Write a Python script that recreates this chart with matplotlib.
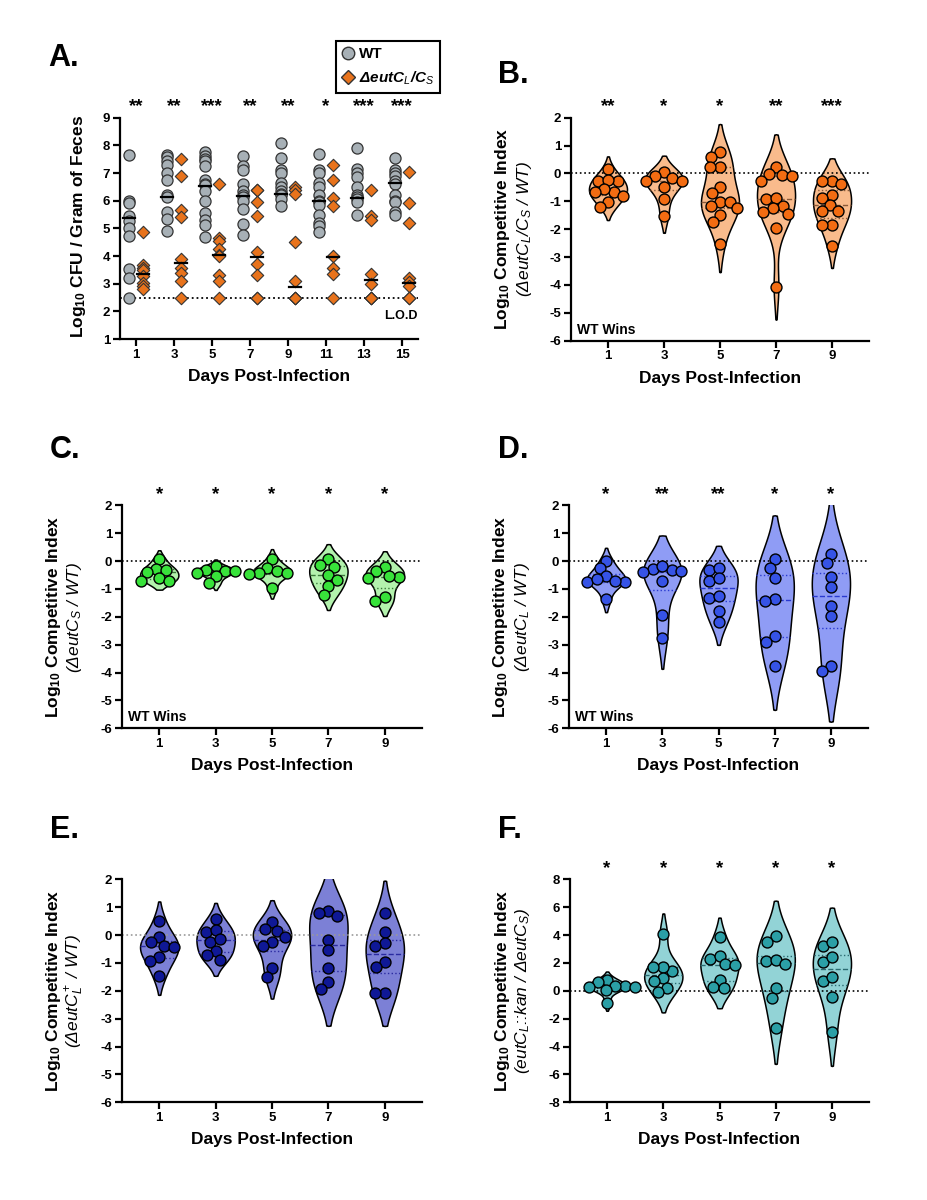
import numpy as np
import matplotlib
matplotlib.use('Agg')
import matplotlib.pyplot as plt
from matplotlib.lines import Line2D

plt.rcParams['font.family'] = ['Liberation Sans', 'DejaVu Sans']
plt.rcParams['mathtext.fontset'] = 'custom'
plt.rcParams['mathtext.rm'] = 'Liberation Sans'
plt.rcParams['mathtext.it'] = 'Liberation Sans:italic'
plt.rcParams['mathtext.bf'] = 'Liberation Sans:bold'

# ---------------- data ----------------
days_a = ['1', '3', '5', '7', '9', '11', '13', '15']
wt_a = [
    [7.65, 6.0, 5.92, 5.45, 5.28, 5.0, 4.72, 3.52, 3.2, 2.5],
    [7.65, 7.58, 7.45, 7.28, 7.0, 6.75, 6.22, 6.15, 5.6, 5.32, 4.9],
    [7.75, 7.63, 7.5, 7.45, 7.25, 6.75, 6.62, 6.55, 6.35, 6.0, 5.55, 5.3, 5.12, 4.7],
    [7.63, 7.25, 7.1, 6.6, 6.35, 6.2, 6.15, 6.0, 5.7, 5.15, 4.75],
    [8.1, 7.55, 7.12, 7.0, 6.65, 6.5, 6.35, 6.25, 6.2, 6.05, 5.8],
    [7.7, 7.1, 7.0, 6.65, 6.5, 6.2, 6.0, 5.95, 5.85, 5.5, 5.2, 5.1, 4.85],
    [7.9, 7.15, 7.0, 6.85, 6.5, 6.2, 6.15, 6.05, 5.95, 5.5],
    [7.55, 7.1, 7.0, 6.9, 6.7, 6.6, 6.2, 6.0, 5.95, 5.6, 5.5],
]
ko_a = [
    [4.85, 3.68, 3.56, 3.5, 3.26, 3.04, 2.92, 2.8],
    [7.5, 6.9, 5.65, 5.4, 3.9, 3.55, 3.4, 3.1, 2.5],
    [6.6, 4.65, 4.55, 4.25, 4.05, 4.0, 3.3, 3.1, 2.5],
    [6.4, 6.38, 5.95, 5.45, 4.15, 3.7, 3.3, 2.5, 2.5],
    [6.5, 6.4, 6.25, 4.5, 3.1, 2.5, 2.5, 2.5],
    [7.3, 6.75, 6.1, 5.8, 4.0, 3.55, 3.35, 2.5],
    [6.4, 5.45, 5.3, 3.35, 3.0, 2.5, 2.5, 2.5],
    [7.05, 5.9, 5.2, 3.2, 3.05, 2.9, 2.5, 2.5],
]
wt_median_a = [5.37, 6.15, 6.53, 6.17, 6.23, 6.0, 6.11, 6.63]
ko_median_a = [3.34, 3.74, 4.04, 3.96, 2.87, 3.96, 3.14, 3.04]
stars_a = ['**', '**', '***', '**', '**', '*', '***', '***']
lod = 2.5

days_ci = ['1', '3', '5', '7', '9']
ci_b = [
    [0.16, -0.26, -0.26, -0.24, -0.66, -0.57, -0.8, -0.68, -1.01, -1.22],
    [0.04, -0.1, -0.15, -0.26, -0.27, -0.48, -0.9, -1.53],
    [0.76, 0.58, 0.22, 0.22, -0.48, -0.69, -1.01, -1.01, -1.17, -1.25, -1.49, -1.73, -2.53],
    [0.22, -0.02, -0.06, -0.09, -0.26, -0.93, -0.89, -1.16, -1.25, -1.37, -1.46, -1.94, -4.06],
    [-0.26, -0.26, -0.38, -0.78, -0.87, -1.13, -1.35, -1.34, -1.85, -1.85, -2.59],
]
stars_b = ['**', '*', '*', '**', '***']

ci_c = [
    [0.06, -0.28, -0.32, -0.4, -0.62, -0.7, -0.7],
    [-0.32, -0.18, -0.42, -0.34, -0.34, -0.54, -0.8],
    [0.06, -0.26, -0.44, -0.34, -0.47, -0.44, -0.98],
    [0.07, -0.14, -0.22, -0.5, -0.68, -0.89, -1.22],
    [-0.2, -0.36, -0.56, -0.6, -0.52, -1.3, -1.42],
]
stars_c = ['*', '*', '*', '*', '*']

ci_d = [
    [0.01, -0.26, -0.52, -0.74, -0.66, -0.76, -0.7, -1.37],
    [-0.3, -0.32, -0.39, -0.37, -0.18, -0.72, -1.94, -2.77],
    [-0.32, -0.26, -0.7, -0.62, -1.34, -1.25, -1.78, -2.2],
    [0.06, -0.26, -0.6, -1.36, -1.42, -2.69, -2.89, -3.76],
    [0.25, -0.08, -0.56, -0.92, -1.6, -1.96, -3.75, -3.94],
]
stars_d = ['*', '**', '**', '*', '*']

ci_e = [
    [0.52, -0.06, -0.26, -0.38, -0.44, -0.78, -0.93, -1.46],
    [0.58, 0.12, 0.18, -0.24, -0.15, -0.56, -0.72, -0.89],
    [0.46, 0.16, 0.22, -0.06, -0.26, -0.38, -1.17, -1.49],
    [0.88, 0.78, 0.70, -0.18, -0.54, -1.17, -1.70, -1.95],
    [0.78, 0.12, -0.27, -0.39, -0.95, -1.13, -2.09, -2.09],
]

ci_f = [
    [0.81, 0.6, 0.36, 0.24, 0.26, 0.38, 0.05, -0.86],
    [4.07, 1.41, 1.72, 1.72, 0.89, 0.72, 0.22, -0.07],
    [3.83, 2.27, 2.51, 1.89, 1.84, 0.81, 0.29, 0.17],
    [3.92, 3.52, 2.15, 2.2, 1.91, 0.17, -0.5, -2.7],
    [3.21, 3.52, 2.08, 2.39, 0.72, 1.0, -0.43, -2.94],
]
stars_f = ['*', '*', '*', '*', '*']

# ---------------- figure ----------------
W, H = 927, 1200
fig = plt.figure(figsize=(W / 100, H / 100), dpi=100)


def make_ax(l, t, r, b):
    return fig.add_axes([l / W, 1 - b / H, (r - l) / W, (b - t) / H])


def style(ax, xl, yt):
    for s in ['top', 'right']:
        ax.spines[s].set_visible(False)
    for s in ['left', 'bottom']:
        ax.spines[s].set_linewidth(1.6)
    ax.tick_params(axis='both', width=1.6, length=5, labelsize=9.5, pad=2)
    ax.set_xticks(range(len(xl)))
    ax.set_xticklabels(xl, fontweight='bold')
    ax.set_yticks(yt)
    ax.set_yticklabels([str(v) for v in yt], fontweight='bold')
    ax.set_xlabel('Days Post-Infection', fontsize=12.5, fontweight='bold', labelpad=6)


def stars(ax, labels, dy=8):
    for i, s in enumerate(labels):
        ax.annotate(s, xy=(i, 1.0), xycoords=('data', 'axes fraction'),
                    xytext=(0, dy), textcoords='offset points',
                    ha='center', va='center', fontsize=13.5, fontweight='bold')


def ylabels(ax_left, ycenter, line1, line2=None, off1=68, off2=47):
    x1 = ax_left - (off1 if line2 else 41)
    fig.text(x1 / W, 1 - ycenter / H, line1, rotation=90, ha='center', va='center',
             fontsize=12.5, fontweight='bold')
    if line2:
        fig.text((ax_left - off2) / W, 1 - ycenter / H, line2, rotation=90,
                 ha='center', va='center', fontsize=12.5, fontstyle='italic')


def panel_letter(x, y, s):
    fig.text(x / W, 1 - y / H, s, ha='left', va='top', fontsize=22, fontweight='bold')


def swarm_offsets(ax, vals, d=10.0):
    p0 = ax.transData.transform((0, 0))
    p1 = ax.transData.transform((1, 1))
    sx, sy = p1[0] - p0[0], p1[1] - p0[1]
    vals = np.asarray(vals, float)
    order = np.argsort(-vals, kind='stable')
    placed = []
    offs = np.zeros(len(vals))
    for i in order:
        y = vals[i] * sy
        cands = [0.0]
        for xp, yp in placed:
            dy = abs(y - yp)
            if dy < d:
                dx = np.sqrt(d * d - dy * dy)
                cands += [xp + dx, xp - dx]
        cands = sorted(cands, key=lambda c: (round(abs(c), 6), c))
        chosen = cands[-1]
        for c in cands:
            if all((c - xp) ** 2 + (y - yp) ** 2 >= d * d - 1e-6 for xp, yp in placed):
                chosen = c
                break
        placed.append((chosen, y))
        offs[i] = chosen / sx
    return offs


def violin(ax, x0, vals, fc, lc, halfw=0.34, ext=1.65):
    v = np.asarray(vals, float)
    n = len(v)
    h = 1.06 * np.std(v, ddof=1) * n ** (-0.2)
    y = np.linspace(v.min() - ext * h, v.max() + ext * h, 500)
    dens = np.exp(-0.5 * ((y[:, None] - v[None, :]) / h) ** 2).sum(1)
    half = dens / dens.max() * halfw
    half[0] = half[-1] = 0
    ax.fill_betweenx(y, x0 - half, x0 + half, facecolor=fc, edgecolor='black',
                     linewidth=1.1, zorder=2)
    q1, med, q3 = np.percentile(v, [25, 50, 75])
    for q, ls in [(q1, ':'), (med, '--'), (q3, ':')]:
        w = np.interp(q, y, half)
        ax.plot([x0 - w, x0 + w], [q, q], ls=ls, color=lc, lw=1.0, zorder=3)


def violin_panel(box, data, fc, pc, lc, ylim, yt, star_list, wins, zero_color='black'):
    ax = make_ax(*box)
    ax.set_xlim(-0.66, 4.66)
    ax.set_ylim(*ylim)
    style(ax, days_ci, yt)
    ax.axhline(0, color=zero_color, ls=':', lw=1.2, zorder=2.5)
    for i, vals in enumerate(data):
        violin(ax, i, vals, fc, lc)
        offs = swarm_offsets(ax, vals)
        ax.scatter(i + offs, vals, s=62, c=pc, edgecolors='black', linewidths=1.0, zorder=4)
    if star_list:
        stars(ax, star_list)
    if wins:
        ax.annotate('WT Wins', xy=(0, 0), xycoords='axes fraction', xytext=(4, 3),
                    textcoords='offset points', ha='left', va='bottom',
                    fontsize=10, fontweight='bold')
    return ax


# ---- Panel A ----
axA = make_ax(120, 117.7, 418, 339)
axA.set_xlim(-0.42, 7.42)
axA.set_ylim(1, 9)
style(axA, days_a, list(range(1, 10)))
axA.axhline(lod, color='black', ls=':', lw=1.3, zorder=1)
wt_col = '#a7b0b6'
ko_col = '#e8731c'
for i in range(len(days_a)):
    axA.scatter(np.full(len(wt_a[i]), i - 0.184), wt_a[i], s=64, marker='o',
                c=wt_col, edgecolors='#333333', linewidths=0.9, zorder=3)
    axA.scatter(np.full(len(ko_a[i]), i + 0.184), ko_a[i], s=40, marker='D',
                c=ko_col, edgecolors='#333333', linewidths=0.8, zorder=3)
    axA.plot([i - 0.184 - 0.16, i - 0.184 + 0.16], [wt_median_a[i]] * 2, color='black', lw=1.6, zorder=4)
    axA.plot([i + 0.184 - 0.16, i + 0.184 + 0.16], [ko_median_a[i]] * 2, color='black', lw=1.6, zorder=4)
stars(axA, stars_a)
axA.annotate('L.O.D', xy=(1, 0), xycoords='axes fraction', xytext=(0, 12),
             textcoords='offset points', ha='right', va='bottom', fontsize=9, fontweight='bold')
handles = [Line2D([], [], ls='none', marker='o', ms=9, mfc=wt_col, mec='#333333'),
           Line2D([], [], ls='none', marker='D', ms=7, mfc=ko_col, mec='#333333')]
leg = fig.legend(handles, ['WT', r'ΔeutC$_L$/C$_S$'], loc='upper left',
                 bbox_to_anchor=(336 / W, 1 - 41 / H), frameon=True, fancybox=False,
                 edgecolor='black', framealpha=1, borderpad=0.4, borderaxespad=0,
                 handletextpad=0.3, handlelength=0.8, labelspacing=0.55,
                 prop={'size': 11, 'weight': 'bold', 'style': 'italic'})
leg.get_frame().set_linewidth(1.5)
leg.get_texts()[0].set_fontstyle('normal')
ylabels(120, 226, r'Log$_{\mathbf{10}}$ CFU / Gram of Feces')
panel_letter(48, 43, 'A.')

# ---- Panel B ----
axB = violin_panel((571, 117.7, 869, 340.7), ci_b, '#f9bb8c', '#f36c12', '#8a5a3a',
                   (-6, 2), list(range(-6, 3)), stars_b, True)
ylabels(571, 229, r'Log$_{\mathbf{10}}$ Competitive Index', r'(ΔeutC$_L$/C$_S$ / WT)')
panel_letter(498, 60, 'B.')

# ---- Panel C ----
axC = violin_panel((122, 505.3, 422, 728.3), ci_c, '#b3f2ad', '#38e23a', '#3a7a3a',
                   (-6, 2), list(range(-6, 3)), stars_c, True)
ylabels(122, 617, r'Log$_{\mathbf{10}}$ Competitive Index', r'(ΔeutC$_S$ / WT)')
panel_letter(50, 435, 'C.')

# ---- Panel D ----
axD = violin_panel((569, 505.3, 868, 728.3), ci_d, '#8f9cf5', '#3653e6', '#2a3ad0',
                   (-6, 2), list(range(-6, 3)), stars_d, True)
ylabels(569, 617, r'Log$_{\mathbf{10}}$ Competitive Index', r'(ΔeutC$_L$ / WT)')
panel_letter(498, 435, 'D.')

# ---- Panel E ----
axE = violin_panel((122, 879.3, 422, 1102.3), ci_e, '#7c80d6', '#0f1896', '#2a2aa0',
                   (-6, 2), list(range(-6, 3)), None, False, zero_color='#999999')
ylabels(122, 991, r'Log$_{\mathbf{10}}$ Competitive Index', r'(ΔeutC$_L^+$ / WT)')
panel_letter(50, 815, 'E.')

# ---- Panel F ----
axF = violin_panel((570, 879.3, 869, 1102.3), ci_f, '#92d3d6', '#2b9fa6', '#2a6a70',
                   (-8, 8), list(range(-8, 9, 2)), stars_f, False)
ylabels(570, 991, r'Log$_{\mathbf{10}}$ Competitive Index', r'(eutC$_L$::kan / ΔeutC$_S$)')
panel_letter(498, 815, 'F.')

fig.savefig('out.png', dpi=100)
